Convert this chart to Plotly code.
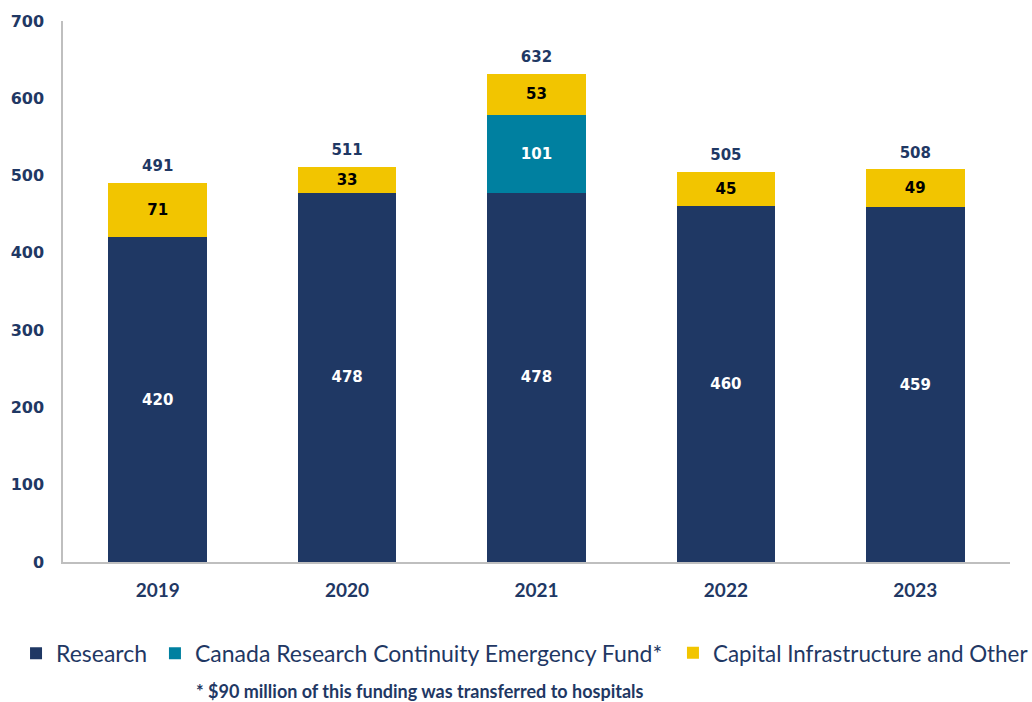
import plotly.graph_objects as go

years = ["2019", "2020", "2021", "2022", "2023"]
research = [420, 478, 478, 460, 459]
crcef = [None, None, 101, None, None]
capital = [71, 33, 53, 45, 49]
totals = [491, 511, 632, 505, 508]

NAVY = "#1F3864"
TEAL = "#0080A0"
YELLOW = "#F2C500"
LBL_FONT = "DejaVu Sans"

fig = go.Figure()
fig.add_trace(go.Bar(
    x=years, y=research, name="Research", legend="legend",
    marker=dict(color=NAVY, line=dict(width=0)),
    text=[str(v) for v in research], textposition="inside", insidetextanchor="middle",
    textangle=0, constraintext="none",
    insidetextfont=dict(color="white", size=15, family=LBL_FONT, weight="bold"),
))
fig.add_trace(go.Bar(
    x=years, y=crcef, name="Canada Research Continuity Emergency Fund*", legend="legend2",
    marker=dict(color=TEAL, line=dict(width=0)),
    text=["" if v is None else str(v) for v in crcef], textposition="inside",
    insidetextanchor="middle", textangle=0, constraintext="none",
    insidetextfont=dict(color="white", size=15, family=LBL_FONT, weight="bold"),
))
fig.add_trace(go.Bar(
    x=years, y=capital, name="Capital Infrastructure and Other", legend="legend3",
    marker=dict(color=YELLOW, line=dict(width=0)),
    text=[str(v) for v in capital], textposition="inside", insidetextanchor="middle",
    textangle=0, constraintext="none",
    insidetextfont=dict(color="black", size=15, family=LBL_FONT, weight="bold"),
))
fig.add_trace(go.Scatter(
    x=years, y=totals, mode="markers+text", text=[str(t) for t in totals],
    textposition="top center", showlegend=False, hoverinfo="skip",
    marker=dict(size=11, color="rgba(0,0,0,0)"),
    textfont=dict(color=NAVY, size=15, family=LBL_FONT, weight="bold"),
))

leg_common = dict(orientation="h", xanchor="left", y=-0.129, yanchor="top",
                  itemsizing="constant", bgcolor="rgba(0,0,0,0)", entrywidthmode="pixels")

fig.update_layout(
    barmode="stack",
    bargap=0.48,
    width=1032, height=702,
    margin=dict(l=63, r=22, t=21, b=140, autoexpand=False),
    plot_bgcolor="white", paper_bgcolor="white",
    showlegend=True,
    legend=dict(x=-0.0496, entrywidth=110, font=dict(family="Lato", size=23, color=NAVY),
                **leg_common),
    legend2=dict(x=0.0971, entrywidth=490, font=dict(family="Lato", size=23, color=NAVY),
                 **leg_common),
    legend3=dict(x=0.6441, entrywidth=330, font=dict(family="Lato", size=22.4, color=NAVY),
                 **leg_common),
    yaxis=dict(
        range=[0, 700], tickvals=[0, 100, 200, 300, 400, 500, 600, 700],
        showgrid=False, zeroline=False, showline=True, linecolor="#BFBFBF", linewidth=1.5,
        ticks="", ticklabelstandoff=14,
        tickfont=dict(family=LBL_FONT, size=16, color=NAVY, weight="bold"),
    ),
    xaxis=dict(
        showgrid=False, showline=True, linecolor="#BFBFBF", linewidth=1.5, ticks="",
        tickfont=dict(family="Lato", size=19, color=NAVY, weight="bold"),
        ticklabelstandoff=10,
    ),
    annotations=[dict(
        text="* $90 million of this funding was transferred to hospitals",
        xref="paper", yref="paper", x=0.377, y=-0.238, xanchor="center", yanchor="middle",
        showarrow=False, font=dict(family="Lato", size=18, color=NAVY, weight="bold"),
    )],
)

# remove the default 8px page margin so the 1032x702 figure fills the window exactly
fig.write_html("out.html", config={"displayModeBar": False},
               post_script="document.body.style.margin='0px';")
